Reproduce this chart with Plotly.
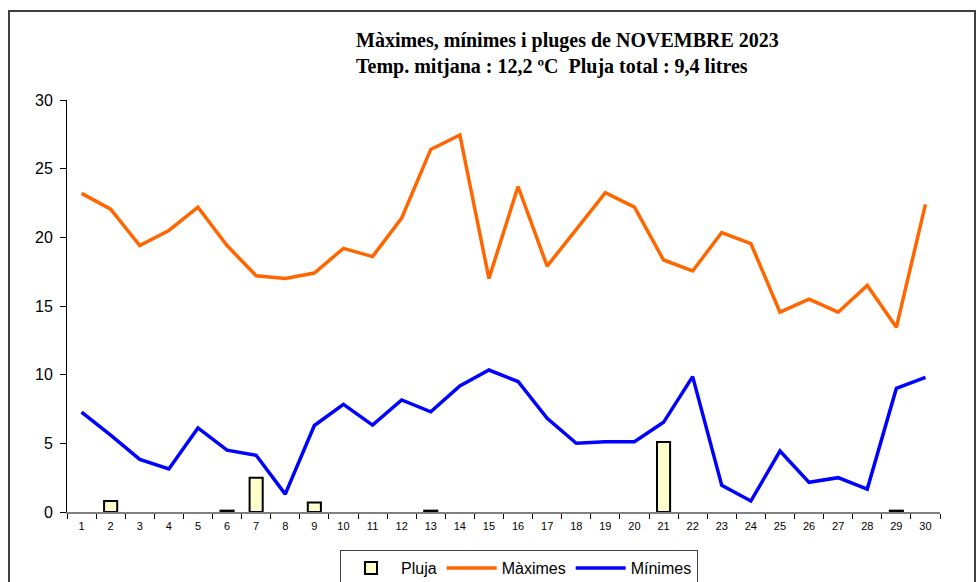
import plotly.graph_objects as go

days = [str(d) for d in range(1, 31)]
maximes = [23.2, 22.05, 19.4, 20.5, 22.2, 19.4, 17.2, 17.0, 17.4, 19.2,
           18.6, 21.4, 26.4, 27.45, 17.0, 23.7, 17.9, 20.6, 23.25, 22.2,
           18.35, 17.55, 20.35, 19.55, 14.55, 15.5, 14.55, 16.5, 13.45, 22.4]
minimes = [7.28, 5.6, 3.83, 3.13, 6.12, 4.5, 4.13, 1.3, 6.3, 7.84,
           6.33, 8.16, 7.3, 9.18, 10.34, 9.5, 6.82, 5.0, 5.12, 5.12,
           6.53, 9.86, 1.94, 0.8, 4.44, 2.16, 2.5, 1.67, 9.0, 9.8]
pluja = [0, 0.8, 0, 0, 0, 0.1, 2.5, 0, 0.7, 0,
         0, 0, 0.1, 0, 0, 0, 0, 0, 0, 0,
         5.1, 0, 0, 0, 0, 0, 0, 0, 0.1, 0]
title_lines = ["Màximes, mínimes i pluges de NOVEMBRE 2023",
               "Temp. mitjana : 12,2 ºC  Pluja total : 9,4 litres"]
y_ticks = [0, 5, 10, 15, 20, 25, 30]

pluja_bars = [v if v > 0 else None for v in pluja]

fig = go.Figure()
fig.add_trace(go.Bar(x=days, y=pluja_bars, name="Pluja", width=0.45,
                     marker=dict(color="#FFFFCC", line=dict(color="black", width=2))))
fig.add_trace(go.Scatter(x=days, y=maximes, name="Màximes", mode="lines",
                         line=dict(color="#FF6600", width=3.5)))
fig.add_trace(go.Scatter(x=days, y=minimes, name="Mínimes", mode="lines",
                         line=dict(color="#0000FF", width=3.5)))

L, R, T, B = 67, 40, 100, 70
W, H = 980, 582
pw, ph = W - L - R, H - T - B

def px(x):
    return (x - L) / pw

def py(y):
    return (H - B - y) / ph

fig.add_shape(type="rect", xref="paper", yref="paper",
              x0=px(9), x1=px(975), y0=py(640), y1=py(11),
              line=dict(color="#404040", width=2), layer="below")

fig.add_annotation(xref="paper", yref="paper", x=px(354), y=py(40),
                   text="<b>" + title_lines[0] + "</b>", showarrow=False,
                   font=dict(family="Liberation Serif", size=20, color="black"),
                   xanchor="left", yanchor="middle")
fig.add_annotation(xref="paper", yref="paper", x=px(354), y=py(67),
                   text="<b>" + title_lines[1] + "</b>", showarrow=False,
                   font=dict(family="Liberation Serif", size=20, color="black"),
                   xanchor="left", yanchor="middle")

fig.update_layout(
    width=W, height=H,
    margin=dict(l=L, r=R, t=T, b=B, autoexpand=False),
    paper_bgcolor="white", plot_bgcolor="white",
    font=dict(family="Liberation Sans", color="black"),
    showlegend=True,
    legend=dict(orientation="h", x=px(340), y=py(550), xanchor="left", yanchor="top",
                bordercolor="#404040", borderwidth=1, font=dict(size=16),
                bgcolor="white", traceorder="normal", itemwidth=50),
    bargap=0.5,
)
fig.update_xaxes(type="category", showline=True, linecolor="#808080", linewidth=1.5,
                 ticks="outside", tickson="boundaries", ticklen=5, tickcolor="black",
                 tickfont=dict(size=11), ticklabelstandoff=3,
                 showgrid=False, zeroline=False, automargin=False)
fig.update_yaxes(range=[0, 30], tickvals=y_ticks, showline=True, linecolor="black",
                 linewidth=1, ticks="outside", ticklen=6, tickcolor="black",
                 tickfont=dict(size=16), ticklabelstandoff=4,
                 showgrid=False, zeroline=False, automargin=False)

fig.write_html("out.html", config={"displayModeBar": False},
               post_script="document.body.style.margin='0';document.body.style.overflow='hidden';")
